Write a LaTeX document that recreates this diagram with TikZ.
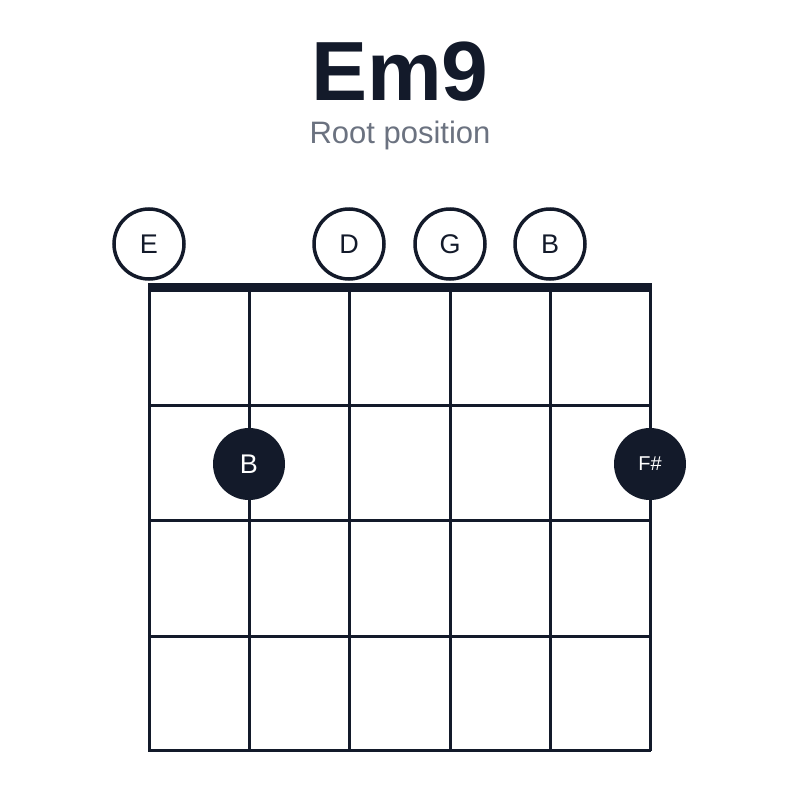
\documentclass[tikz,border=0pt]{standalone}
\usepackage{fontspec}
\setmainfont{Liberation Sans}
\definecolor{ink}{HTML}{131A2A}
\definecolor{subgray}{HTML}{6B7280}
\tikzset{
  open/.style={circle, draw=ink, line width=3.5pt, fill=white, minimum size=70pt, inner sep=0pt, text=ink, font=\fontsize{27}{27}\selectfont},
  fret/.style={circle, fill=ink, minimum size=72pt, inner sep=0pt, text=white, font=\fontsize{27}{27}\selectfont},
}
\begin{document}
\begin{tikzpicture}[x=1pt,y=-1pt]
  \useasboundingbox (0,0) rectangle (800,800);
  \node[text=ink, font=\bfseries\fontsize{84}{84}\selectfont] (title) at (400,72) {Em9};
  \node[text=subgray, font=\fontsize{31}{31}\selectfont] (sub) at (400,135) {Root position};
  % strings and frets
  \foreach \x in {149,249,349,450,550,650}
    \draw[ink, line width=3pt] (\x,287) -- (\x,751);
  \foreach \y in {405,520,636,750}
    \draw[ink, line width=3pt] (148,\y) -- (651,\y);
  \draw[ink, line width=9pt] (148,287) -- (652,287);
  % open strings
  \node[open] (e6) at (149,244) {E};
  \node[open] (d4) at (349,244) {D};
  \node[open] (g3) at (450,244) {G};
  \node[open] (b2) at (550,244) {B};
  % fretted notes
  \node[fret] (b5) at (249,464) {B};
  \node[fret, font=\fontsize{20}{20}\selectfont] (f1) at (650,464) {F\#};
\end{tikzpicture}
\end{document}
